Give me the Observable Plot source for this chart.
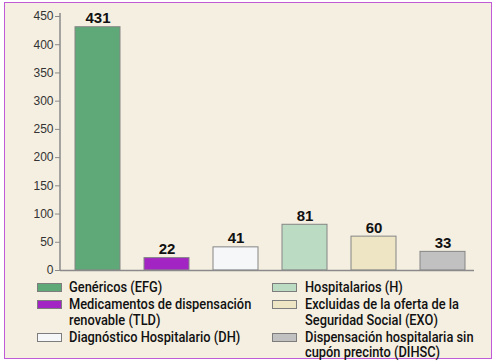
<!DOCTYPE html>
<html>
<head>
<meta charset="utf-8">
<script src="https://cdn.jsdelivr.net/npm/d3@7"></script>
<script src="https://cdn.jsdelivr.net/npm/@observablehq/plot@0.6"></script>
<style>
  html, body { margin: 0; padding: 0; background: #ffffff; }
  #frame { position: absolute; left: 4px; top: 2px; width: 486px; height: 355px;
           border: 1px solid #c05ad6; background: #f5efe1; }
  #chart { position: absolute; left: 0; top: 0; }
  .leg { position: absolute; font-family: Roboto, "Liberation Sans", Arial, sans-serif; font-weight: 500;
         font-size: 14.6px; line-height: 15.5px; color: #111; }
  .item { position: relative; margin-bottom: 1.5px; height: auto; }
  .txt { white-space: nowrap; transform: scaleX(0.88); transform-origin: 0 0; }
  .sw { position: absolute; width: 23px; height: 7px; border: 1px solid #7d7d7d; }
</style>
</head>
<body>
<div id="frame"></div>
<div id="chart"></div>
<div id="legL" class="leg"></div>
<div id="legR" class="leg"></div>
<script>
const categories = ["EFG", "TLD", "DH", "H", "EXO", "DIHSC"];
const values = [431, 22, 41, 81, 60, 33];
const colors = ["#5fa979", "#a224c2", "#f6f7f9", "#bcdbc3", "#ede5c4", "#c1c1c1"];
const legendLabels = [
  "Genéricos (EFG)",
  "Medicamentos de dispensación<br>renovable (TLD)",
  "Diagnóstico Hospitalario (DH)",
  "Hospitalarios (H)",
  "Excluidas de la oferta de la<br>Seguridad Social (EXO)",
  "Dispensación hospitalaria sin<br>cupón precinto (DIHSC)"
];
const yTicks = [0, 50, 100, 150, 200, 250, 300, 350, 400, 450];

const data = categories.map((c, i) => ({cat: c, value: values[i], color: colors[i]}));

const chart = Plot.plot({
  width: 498,
  height: 275,
  marginTop: 16,
  marginBottom: 5,
  marginLeft: 60,
  marginRight: 24,
  style: {background: "transparent", overflow: "visible"},
  x: {domain: categories, paddingInner: 0.348, paddingOuter: 0.174, align: 0.625, axis: null},
  y: {domain: [0, 450]},
  color: {domain: categories, range: colors},
  marks: [
    Plot.barY(data, {x: "cat", y: "value", fill: "cat", stroke: "#858585", strokeWidth: 1}),
    Plot.ruleY([0], {stroke: "#8a8a8a", strokeWidth: 1.5}),
    (index, scales, values, dims) => {
      const g = document.createElementNS("http://www.w3.org/2000/svg", "line");
      g.setAttribute("x1", dims.marginLeft);
      g.setAttribute("x2", dims.marginLeft);
      g.setAttribute("y1", dims.marginTop - 3);
      g.setAttribute("y2", dims.height - dims.marginBottom + 1);
      g.setAttribute("stroke", "#8a8a8a");
      g.setAttribute("stroke-width", 1.5);
      return g;
    },
    Plot.axisY({ticks: yTicks, tickSize: 5, tickPadding: 2, stroke: "#8a8a8a",
                fontSize: 12, fill: "#333", label: null,
                fontFamily: "'Liberation Sans', Arial, sans-serif"}),
    Plot.text(data, {x: "cat", y: "value", text: d => String(d.value), lineAnchor: "bottom", dy: -4,
                     fontSize: 15, fontWeight: "bold", fill: "#111",
                     fontFamily: "'Liberation Sans', Arial, sans-serif"})
  ]
});
document.getElementById("chart").appendChild(chart);

function buildLegend(el, idxs, left, swLeft) {
  el.style.left = left + "px";
  el.style.top = "280px";
  for (const i of idxs) {
    const item = document.createElement("div");
    item.className = "item";
    const sw = document.createElement("div");
    sw.className = "sw";
    sw.style.background = colors[i];
    sw.style.left = (swLeft - left) + "px";
    sw.style.top = "3px";
    const t = document.createElement("div");
    t.className = "txt";
    t.innerHTML = legendLabels[i];
    item.appendChild(sw);
    item.appendChild(t);
    el.appendChild(item);
  }
}
buildLegend(document.getElementById("legL"), [0, 1, 2], 69, 37);
buildLegend(document.getElementById("legR"), [3, 4, 5], 305, 272);
</script>
</body>
</html>
